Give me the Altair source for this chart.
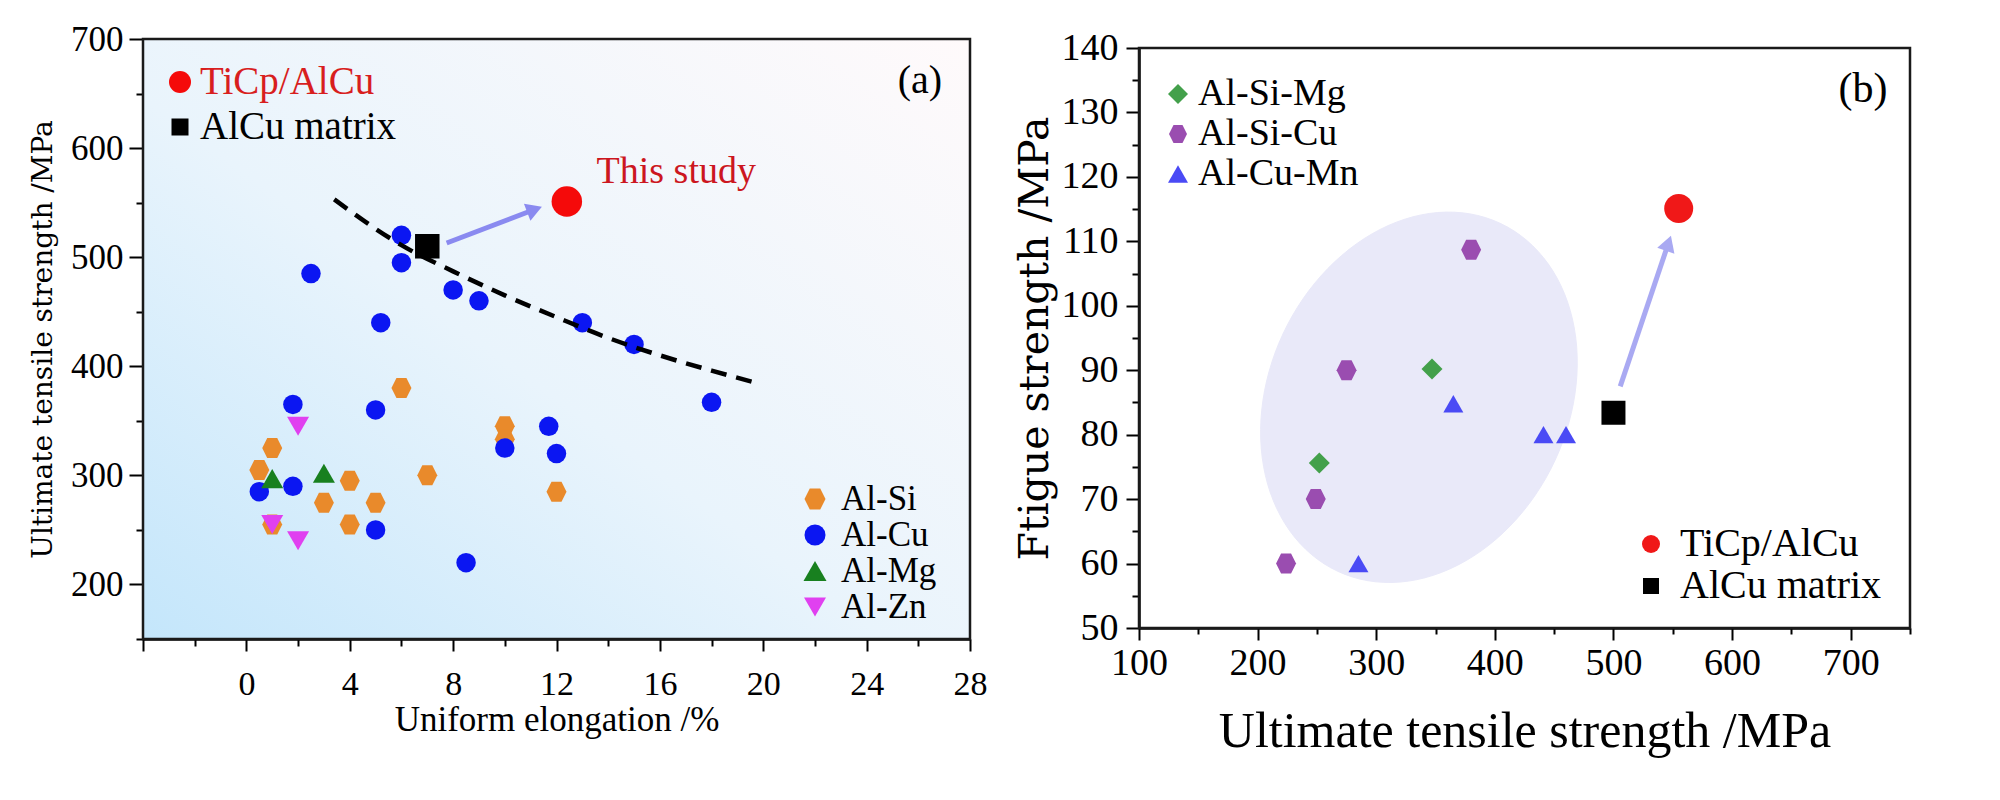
import altair as alt
import numpy as np
import pandas as pd

SERIF = "Liberation Serif"
WIDE = "DejaVu Serif"
HEX = "M-1,0L-0.5,-1L0.5,-1L1,0L0.5,1L-0.5,1Z"

# ---------------- panel (a) data ----------------
a_x_domain = [-4, 28]
a_y_domain = [150, 700]
a_x_ticks = list(range(-4, 29, 2))
a_y_ticks = list(range(150, 701, 50))

alsi_x = [6, 10, 10, 1, 0.5, 4, 7, 3, 5, 12, 4, 1]
alsi_y = [380, 345, 333, 325, 305, 295, 300, 275, 275, 285, 255, 255]
alcu_x = [6, 6, 2.5, 5.2, 8, 9, 13, 15, 18, 1.8, 5, 11.7, 10, 12, 0.5, 1.8, 5, 8.5]
alcu_y = [520, 495, 485, 440, 470, 460, 440, 420, 367, 365, 360, 345, 325, 320, 285, 290, 250, 220]
almg_x = [1, 3]
almg_y = [297, 302]
alzn_x = [2, 1, 2]
alzn_y = [345, 255, 240]
ticp_a_x = [12.4]
ticp_a_y = [551]
matrix_a_x = [7]
matrix_a_y = [510]
trend_x = [3.4, 5, 6, 8, 10, 12, 14, 16, 18, 19.7]
trend_y = [553, 526, 511, 487, 465, 445, 426, 410, 396, 385]
arrow_a_x = [7.75]
arrow_a_y = [513]
arrow_a_x2 = [11.15]
arrow_a_y2 = [543.7]
study_label_x = [13.55]
study_label_y = [578]

a_legend1 = ["TiCp/AlCu", "AlCu matrix"]
a_legend2 = ["Al-Si", "Al-Cu", "Al-Mg", "Al-Zn"]

# ---------------- panel (b) data ----------------
b_x_domain = [100, 750]
b_y_domain = [50, 140]
b_x_ticks = list(range(100, 751, 50))
b_y_ticks = list(range(50, 141, 5))

asm_x = [347, 252]
asm_y = [90.2, 75.6]
asc_x = [380, 275, 249, 224]
asc_y = [108.7, 90, 70, 60]
acm_x = [365, 441, 460, 285]
acm_y = [84.8, 80, 80, 60]
ticp_b_x = [555]
ticp_b_y = [115.1]
matrix_b_x = [500]
matrix_b_y = [83.4]
arrow_b_x = [505.7]
arrow_b_y = [87.5]
arrow_b_x2 = [546.3]
arrow_b_y2 = [109.7]
ellipse_center = [336, 85.8]

b_legend1 = ["Al-Si-Mg", "Al-Si-Cu", "Al-Cu-Mn"]
b_legend2 = ["TiCp/AlCu", "AlCu matrix"]

A_W, A_H = 827, 600
B_W, B_H = 771, 589
B_TOP = 9  # panel (b) frame starts a little lower than panel (a)


def axis(values, minor_test, long_tick, short_tick, label_test, title, tfont, tsize,
         lsize, lpad, tpad):
    return alt.Axis(
        values=values,
        labelExpr=f"{label_test} ? datum.label : ''",
        tickSize={"condition": {"test": minor_test, "value": short_tick}, "value": long_tick},
        tickWidth=2, tickColor="black",
        domainColor="black", domainWidth=2.5,
        grid=False, labelFont=SERIF, labelFontSize=lsize, labelColor="black",
        labelPadding=lpad, labelOverlap=False, labelFlush=False,
        title=title, titleFont=tfont, titleFontSize=tsize, titleFontWeight="normal",
        titleColor="black", titlePadding=tpad,
    )


def points(xs, ys, shape, size, color, xe, ye):
    df = pd.DataFrame({"x": xs, "y": ys})
    return alt.Chart(df).mark_point(filled=True, shape=shape, size=size,
                                    color=color, opacity=1).encode(x=xe, y=ye)


def legend_item(label, px, py, tx, shape, size, color, fsize, tcolor):
    df = pd.DataFrame({"t": [label]})
    sym = alt.Chart(df).mark_point(filled=True, shape=shape, size=size, color=color,
                                   opacity=1).encode(x=alt.value(px), y=alt.value(py))
    txt = alt.Chart(df).mark_text(align="left", baseline="middle", font=SERIF,
                                  fontSize=fsize, color=tcolor).encode(
        x=alt.value(tx), y=alt.value(py), text="t:N")
    return [sym, txt]


def arrow(x, y, x2, y2, color, angle, xe, ye):
    df = pd.DataFrame({"x": x, "y": y, "x2": x2, "y2": y2})
    line = alt.Chart(df).mark_rule(color=color, strokeWidth=5).encode(
        x=xe, y=ye, x2=alt.X2("x2"), y2=alt.Y2("y2"))
    head = alt.Chart(pd.DataFrame({"x": x2, "y": y2})).mark_point(
        shape="triangle-up", filled=True, size=330, color=color, opacity=1,
        angle=angle).encode(x=xe, y=ye)
    return [line, head]


def frame(xd, yd, xe, ye):
    df = pd.DataFrame({"x": [xd[0]], "x2": [xd[1]], "y": [yd[0]], "y2": [yd[1]]})
    return alt.Chart(df).mark_rect(fill="transparent", stroke="#1a1a1a",
                                   strokeWidth=2.5).encode(
        x=xe, y=ye, x2=alt.X2("x2"), y2=alt.Y2("y2"))


# ---------------- panel (a) ----------------
xa = alt.X("x:Q", scale=alt.Scale(domain=a_x_domain, nice=False, zero=False),
           axis=axis(a_x_ticks, "datum.value % 4 !== 0", 12, 7,
                     "datum.value >= 0 && datum.value % 4 === 0",
                     "Uniform elongation /%", SERIF, 35, 34, 16, 1))
ya = alt.Y("y:Q", scale=alt.Scale(domain=a_y_domain, nice=False, zero=False),
           axis=axis(a_y_ticks, "datum.value % 100 !== 0", 14, 7,
                     "datum.value % 100 === 0",
                     "Ultimate tensile strength /MPa", WIDE, 28, 35, 6, 13))

bg = alt.Chart(pd.DataFrame({"x": [a_x_domain[0]], "x2": [a_x_domain[1]],
                             "y": [a_y_domain[0]], "y2": [a_y_domain[1]]})).mark_rect(
    fill={"gradient": "linear", "x1": 0, "y1": 1, "x2": 1, "y2": 0,
          "stops": [{"offset": 0, "color": "#c4e6fb"},
                    {"offset": 0.45, "color": "#e9f4fc"},
                    {"offset": 1, "color": "#fffafb"}]}).encode(
    x=xa, y=ya, x2=alt.X2("x2"), y2=alt.Y2("y2"))

trend = alt.Chart(pd.DataFrame({"x": trend_x, "y": trend_y})).mark_line(
    color="black", strokeWidth=4.5, strokeDash=[16, 10], interpolate="monotone").encode(
    x=xa, y=ya)

study_txt = alt.Chart(pd.DataFrame({"x": study_label_x, "y": study_label_y,
                                    "t": ["This study"]})).mark_text(
    align="left", baseline="middle", font=SERIF, fontSize=38, color="#cc1620").encode(
    x=xa, y=ya, text="t:N")

a_tag = alt.Chart(pd.DataFrame({"t": ["(a)"]})).mark_text(
    align="center", baseline="middle", font=SERIF, fontSize=40, color="black").encode(
    x=alt.value(777), y=alt.value(42), text="t:N")

a_layers = [bg,
            points(alsi_x, alsi_y, HEX, 400, "#e98a2b", xa, ya),
            points(alcu_x, alcu_y, "circle", 380, "#0b16f2", xa, ya),
            points(almg_x, almg_y, "triangle-up", 484, "#18801f", xa, ya),
            points(alzn_x, alzn_y, "triangle-down", 484, "#e040f0", xa, ya),
            trend]
a_layers += arrow(arrow_a_x, arrow_a_y, arrow_a_x2, arrow_a_y2, "#8a8af0", 69, xa, ya)
a_layers += [points(ticp_a_x, ticp_a_y, "circle", 930, "#f50a0a", xa, ya),
             points(matrix_a_x, matrix_a_y, "square", 600, "black", xa, ya),
             study_txt, a_tag]
a_layers += legend_item(a_legend1[0], 37, 43, 57, "circle", 484, "#f50a0a", 39, "#d81e1e")
a_layers += legend_item(a_legend1[1], 37, 88, 57, "square", 289, "black", 39, "black")
a2_shapes = [HEX, "circle", "triangle-up", "triangle-down"]
a2_sizes = [441, 441, 529, 484]
a2_colors = ["#e98a2b", "#0b16f2", "#18801f", "#e040f0"]
for i, lab in enumerate(a_legend2):
    a_layers += legend_item(lab, 672, 460 + 36 * i, 698, a2_shapes[i], a2_sizes[i],
                            a2_colors[i], 35, "black")
a_layers.append(frame(a_x_domain, a_y_domain, xa, ya))

panel_a = alt.layer(*a_layers).properties(width=A_W, height=A_H)

# ---------------- panel (b) ----------------
xb = alt.X("x:Q", scale=alt.Scale(domain=b_x_domain, nice=False, zero=False),
           axis=axis(b_x_ticks, "datum.value % 100 !== 0", 12, 6,
                     "datum.value % 100 === 0",
                     "Ultimate tensile strength /MPa", SERIF, 50, 38, 4, 24))
yb = alt.Y("y:Q", scale=alt.Scale(domain=b_y_domain, nice=False, zero=False,
                                  range=[B_H, B_TOP]),
           axis=axis(b_y_ticks, "datum.value % 10 !== 0", 13, 7,
                     "datum.value % 10 === 0",
                     "Ftigue strength /MPa", WIDE, 41, 38, 8, 5))

# highlight ellipse: semi-axes in pixels, tilted
ell_a, ell_b, ell_ang = 192, 150, np.deg2rad(65)
px_x = B_W / (b_x_domain[1] - b_x_domain[0])
px_y = (B_H - B_TOP) / (b_y_domain[1] - b_y_domain[0])
t = np.linspace(0, 2 * np.pi, 121)[:-1]
ex = ellipse_center[0] + (ell_a * np.cos(t) * np.cos(ell_ang) - ell_b * np.sin(t) * np.sin(ell_ang)) / px_x
ey = ellipse_center[1] + (ell_a * np.cos(t) * np.sin(ell_ang) + ell_b * np.sin(t) * np.cos(ell_ang)) / px_y
ell = alt.Chart(pd.DataFrame({"x": ex, "y": ey, "i": np.arange(len(t))})).mark_line(
    fill="#e9e9f9", stroke="#e9e9f9", strokeWidth=1, interpolate="linear-closed").encode(
    x=xb, y=yb, order="i:Q")

b_tag = alt.Chart(pd.DataFrame({"t": ["(b)"]})).mark_text(
    align="center", baseline="middle", font=SERIF, fontSize=42, color="black").encode(
    x=alt.value(724), y=alt.value(41 + B_TOP), text="t:N")

b_layers = [ell,
            points(asm_x, asm_y, "diamond", 441, "#43a04b", xb, yb),
            points(asc_x, asc_y, HEX, 400, "#9a4db0", xb, yb),
            points(acm_x, acm_y, "triangle-up", 400, "#4a4af5", xb, yb)]
b_layers += arrow(arrow_b_x, arrow_b_y, arrow_b_x2, arrow_b_y2, "#a9a9f2", 19, xb, yb)
b_layers += [points(ticp_b_x, ticp_b_y, "circle", 841, "#f01818", xb, yb),
             points(matrix_b_x, matrix_b_y, "square", 576, "black", xb, yb),
             b_tag]
b1_shapes = ["diamond", HEX, "triangle-up"]
b1_sizes = [400, 324, 400]
b1_colors = ["#43a04b", "#9a4db0", "#4a4af5"]
for i, lab in enumerate(b_legend1):
    b_layers += legend_item(lab, 39, 46 + B_TOP + 40 * i, 59, b1_shapes[i], b1_sizes[i],
                            b1_colors[i], 38, "black")
b_layers += legend_item(b_legend2[0], 512, 496 + B_TOP, 541, "circle", 324, "#f01818", 40, "black")
b_layers += legend_item(b_legend2[1], 512, 538 + B_TOP, 541, "square", 256, "black", 40, "black")
b_layers.append(frame(b_x_domain, b_y_domain, xb, yb))

panel_b = alt.layer(*b_layers).properties(width=B_W, height=B_H)

chart = alt.hconcat(panel_a, panel_b, spacing=27).properties(
    padding={"left": 29, "top": 22, "right": 10, "bottom": 10},
    background="white",
).configure_view(strokeWidth=0)

chart.save("out.html", embed_options={"renderer": "svg", "actions": False})
